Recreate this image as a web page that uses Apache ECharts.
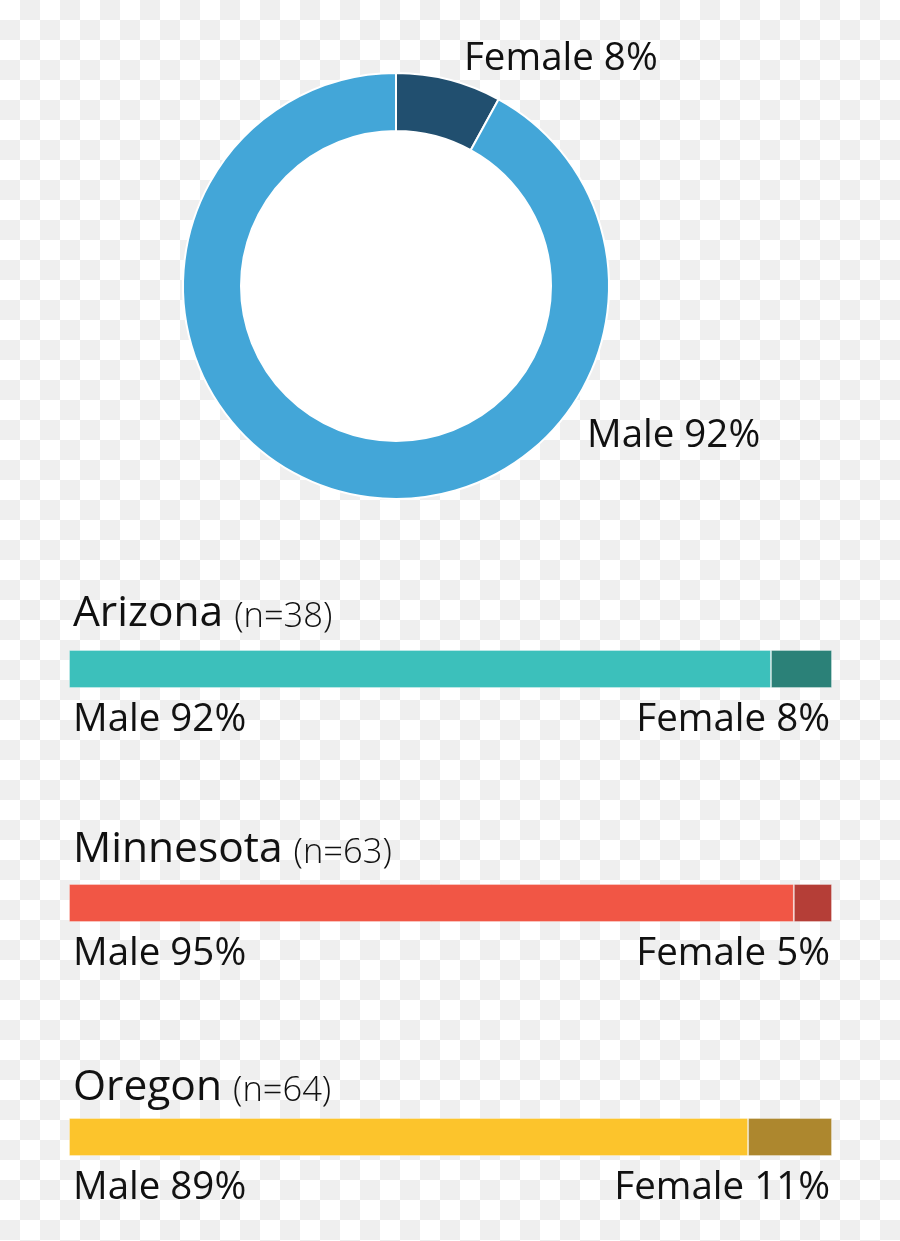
<!DOCTYPE html>
<html>
<head>
<meta charset="utf-8">
<script src="https://cdn.jsdelivr.net/npm/echarts@6/dist/echarts.min.js"></script>
<style>
html,body{margin:0;padding:0;}
#chart{width:900px;height:1241px;}
</style>
</head>
<body>
<div id="chart"></div>
<script>
// ---- data ----
const overallLabels = ['Female', 'Male'];
const overallValues = [8, 92];
const states = ['Arizona', 'Minnesota', 'Oregon'];
const stateN = [38, 63, 64];
const maleValues = [92, 95, 89];
const femaleValues = [8, 5, 11];

// ---- styles ----
const FONT = '"Open Sans", "Noto Sans", sans-serif';
const pieColors = ['#214f6f', '#43a6d8'];
const maleColors = ['#3cc0bb', '#f15645', '#fcc42c'];
const femaleColors = ['#2b8178', '#b53e37', '#ad872e'];
const gridTops = [650, 884, 1118];
const titleTops = [580, 816, 1054];
const gridHeight = 38;
const LABEL_SIZE = 38.5;

// checkerboard background
const pc = document.createElement('canvas');
pc.width = 40; pc.height = 40;
const ctx = pc.getContext('2d');
ctx.fillStyle = '#ffffff'; ctx.fillRect(0, 0, 40, 40);
ctx.fillStyle = '#efefef'; ctx.fillRect(20, 0, 20, 20); ctx.fillRect(0, 20, 20, 20);

const chart = echarts.init(document.getElementById('chart'), null, {renderer: 'canvas'});

const grids = [], xAxes = [], yAxes = [], series = [], titles = [];
const pieLabelPos = [{x: 464, y: 59}, {x: 587, y: 436}];

// white hole of the donut
series.push({
  type: 'pie', radius: [0, 156], center: [396, 286], silent: true,
  data: [{value: 1, name: '', itemStyle: {color: '#ffffff'}}],
  label: {show: false}, labelLine: {show: false}
});

series.push({
  type: 'pie',
  radius: [155, 213],
  center: [396, 286],
  startAngle: 90,
  clockwise: true,
  silent: true,
  data: overallLabels.map((n, i) => ({name: n, value: overallValues[i], itemStyle: {color: pieColors[i]}})),
  itemStyle: {borderColor: '#ffffff', borderWidth: 2},
  label: {
    show: true, position: 'outside',
    formatter: p => p.name + ' ' + p.value + '%',
    fontFamily: FONT, fontSize: LABEL_SIZE, color: '#111'
  },
  labelLine: {show: false},
  labelLayout: p => ({x: pieLabelPos[p.dataIndex].x, y: pieLabelPos[p.dataIndex].y, align: 'left', verticalAlign: 'middle'})
});

states.forEach((s, i) => {
  grids.push({left: 69, width: 763, top: gridTops[i], height: gridHeight});
  xAxes.push({type: 'value', gridIndex: i, min: 0, max: 100, show: false});
  yAxes.push({type: 'category', gridIndex: i, data: [s], show: false});
  titles.push({
    text: '{a|' + s + ' }{b|(n=' + stateN[i] + ')}',
    left: 68, top: titleTops[i],
    textStyle: {
      fontWeight: 'normal',
      rich: {
        a: {fontFamily: FONT, fontSize: 42.5, fontWeight: 'normal', color: '#111', verticalAlign: 'bottom', lineHeight: 50},
        b: {fontFamily: FONT, fontSize: 34.5, fontWeight: 300, color: '#111', verticalAlign: 'bottom', lineHeight: 46}
      }
    }
  });
  series.push({
    type: 'bar', name: 'Male', stack: 's' + i, xAxisIndex: i, yAxisIndex: i,
    barWidth: '100%', silent: true,
    data: [maleValues[i]],
    itemStyle: {color: maleColors[i], borderColor: 'rgba(255,255,255,0.3)', borderWidth: 1},
    label: {
      show: true, position: [4, gridHeight + 32], align: 'left', verticalAlign: 'middle',
      formatter: p => p.seriesName + ' ' + p.value + '%',
      fontFamily: FONT, fontSize: LABEL_SIZE, color: '#111'
    }
  });
  series.push({
    type: 'bar', name: 'Female', stack: 's' + i, xAxisIndex: i, yAxisIndex: i,
    barWidth: '100%', silent: true,
    data: [femaleValues[i]],
    itemStyle: {color: femaleColors[i], borderColor: 'rgba(255,255,255,0.3)', borderWidth: 1},
    label: {
      show: true, position: ['100%', gridHeight + 32], align: 'right', verticalAlign: 'middle',
      offset: [-2, 0],
      formatter: p => p.seriesName + ' ' + p.value + '%',
      fontFamily: FONT, fontSize: LABEL_SIZE, color: '#111'
    }
  });
});

chart.setOption({
  backgroundColor: {image: pc, repeat: 'repeat'},
  animation: false,
  title: titles,
  grid: grids,
  xAxis: xAxes,
  yAxis: yAxes,
  series: series
});
</script>
</body>
</html>
